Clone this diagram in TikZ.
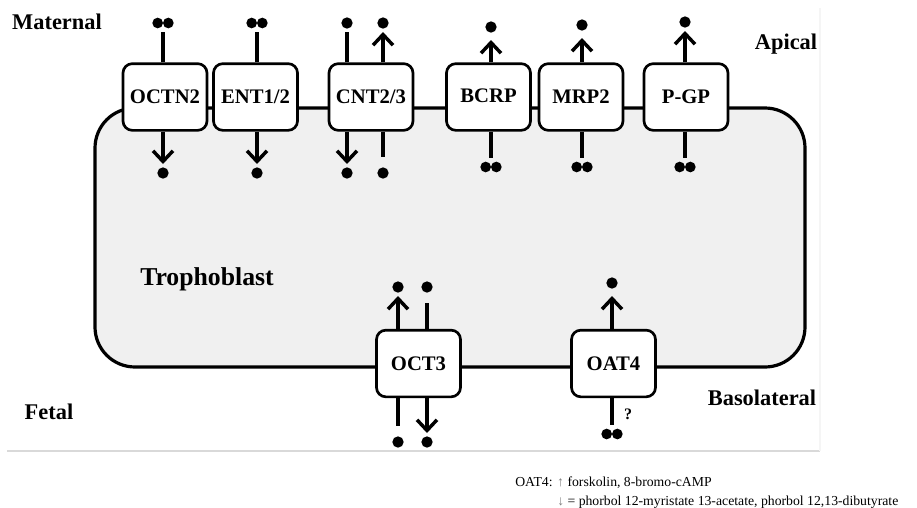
\documentclass[tikz,border=0pt]{standalone}
\usepackage{fontspec}
\setmainfont{Liberation Serif}
\newfontfamily\labelfont{Liberation Serif}
\usetikzlibrary{arrows.meta}

\begin{document}
\begin{tikzpicture}[x=0.75pt,y=-0.75pt,
  trans/.style={draw, fill=white, line width=2pt, rounded corners=7pt,
    minimum width=63pt, minimum height=50pt, inner sep=0pt,
    font=\labelfont\bfseries\fontsize{15.5}{18}\selectfont},
  side/.style={font=\labelfont\bfseries\fontsize{16.8}{20}\selectfont, inner sep=0pt},
  stem/.style={line width=2.6pt},
  flow/.style={stem, -{Straight Barb[length=8pt,width=15pt]}},
  dot/.style={circle, fill=black, minimum size=8.5pt, inner sep=0pt, outer sep=2.5pt},
  ddot/.style={minimum width=16pt, minimum height=8pt, inner sep=0pt, outer sep=3pt,
    path picture={
      \fill ([xshift=-4pt]path picture bounding box.center) circle (4pt);
      \fill ([xshift=4pt]path picture bounding box.center) circle (4pt);}},
  note/.style={anchor=west, inner sep=0pt, font=\labelfont\fontsize{10.3}{12}\selectfont},
]
\useasboundingbox (0,0) rectangle (917,507);

% panel edges
\draw[gray!30, line width=1.5pt] (7,451) -- (820,451);
\draw[gray!8, line width=0.8pt] (820,8) -- (820,451);

% the cell
\draw[fill=gray!12, line width=2.4pt, rounded corners=30pt] (95,108) rectangle (805,367);

% apical transporters
\node[trans] (octn2) at (165,97)   {OCTN2};
\node[trans] (ent)   at (255.5,97) {\raisebox{1pt}{ENT1/2}};
\node[trans] (cnt)   at (371,97)   {CNT2/3};
\node[trans] (bcrp)  at (488.5,97) {\raisebox{1.5pt}{BCRP}};
\node[trans] (mrp2)  at (581,97)   {MRP2};
\node[trans] (pgp)   at (686,97)   {\raisebox{-3pt}{P-GP}};

% basolateral transporters
\node[trans] (oct3) at (418.5,363.5) {OCT3};
\node[trans] (oat4) at (613.5,363.5) {OAT4};

% substrates
\node[ddot] (octn2t) at (163,23) {};
\node[dot]  (octn2b) at (163,173) {};
\node[ddot] (entt)   at (257,23) {};
\node[dot]  (entb)   at (257,173) {};
\node[dot]  (cntt1)  at (347,23) {};
\node[dot]  (cntt2)  at (383,23) {};
\node[dot]  (cntb1)  at (347,173) {};
\node[dot]  (cntb2)  at (383,173) {};
\node[dot]  (bcrpt)  at (491,27) {};
\node[ddot] (bcrpb)  at (491,167) {};
\node[dot]  (mrp2t)  at (582,25) {};
\node[ddot] (mrp2b)  at (582,167) {};
\node[dot]  (pgpt)   at (685,22) {};
\node[ddot] (pgpb)   at (685,167) {};
\node[dot]  (oct3t1) at (398,287) {};
\node[dot]  (oct3t2) at (427,287) {};
\node[dot]  (oct3b1) at (398,442) {};
\node[dot]  (oct3b2) at (427,442) {};
\node[dot]  (oat4t)  at (612,283) {};
\node[ddot] (oat4b)  at (612,434) {};

% stems and transport arrows
\draw[stem] (octn2.north -| octn2t) -- (octn2t);
\draw[flow] (octn2.south -| octn2b) -- (octn2b);
\draw[stem] (ent.north -| entt) -- (entt);
\draw[flow] (ent.south -| entb) -- (entb);
\draw[stem] (cnt.north -| cntt1) -- (cntt1);
\draw[flow] (cnt.north -| cntt2) -- (cntt2);
\draw[flow] (cnt.south -| cntb1) -- (cntb1);
\draw[stem, shorten >=5pt] (cnt.south -| cntb2) -- (cntb2);
\draw[flow, shorten >=3pt] (bcrp.north -| bcrpt) -- (bcrpt);
\draw[stem] (bcrp.south -| bcrpb) -- (bcrpb);
\draw[flow, shorten >=3pt] (mrp2.north -| mrp2t) -- (mrp2t);
\draw[stem] (mrp2.south -| mrp2b) -- (mrp2b);
\draw[flow] (pgp.north -| pgpt) -- (pgpt);
\draw[stem] (pgp.south -| pgpb) -- (pgpb);
\draw[flow] (oct3.north -| oct3t1) -- (oct3t1);
\draw[stem, shorten >=5pt] (oct3.north -| oct3t2) -- (oct3t2);
\draw[stem, shorten >=5pt] (oct3.south -| oct3b1) -- (oct3b1);
\draw[flow] (oct3.south -| oct3b2) -- (oct3b2);
\draw[flow, shorten >=3pt] (oat4.north -| oat4t) -- (oat4t);
\draw[stem] (oat4.south -| oat4b) -- (oat4b);
\node[font=\labelfont\bfseries\fontsize{12}{14}\selectfont, inner sep=0pt] (q) at (628,414) {?};

% region labels
\node[side] (maternal) at (57,22)  {Maternal};
\node[side] (apical)   at (786,44) {Apical};
\node[side] (fetal)    at (49,412) {Fetal};
\node[side] (baso)     at (762,398) {Basolateral};
\node[font=\labelfont\bfseries\fontsize{19.3}{22}\selectfont, inner sep=0pt] (tropho) at (207,279) {Trophoblast};

% regulation note
\node[note] (note1) at (515,483) {OAT4: {\color{gray}↑} forskolin, 8-bromo-cAMP};
\node[note] (note2) at (557,502) {{\color{gray}↓} = phorbol 12-myristate 13-acetate, phorbol 12,13-dibutyrate};
\end{tikzpicture}
\end{document}
